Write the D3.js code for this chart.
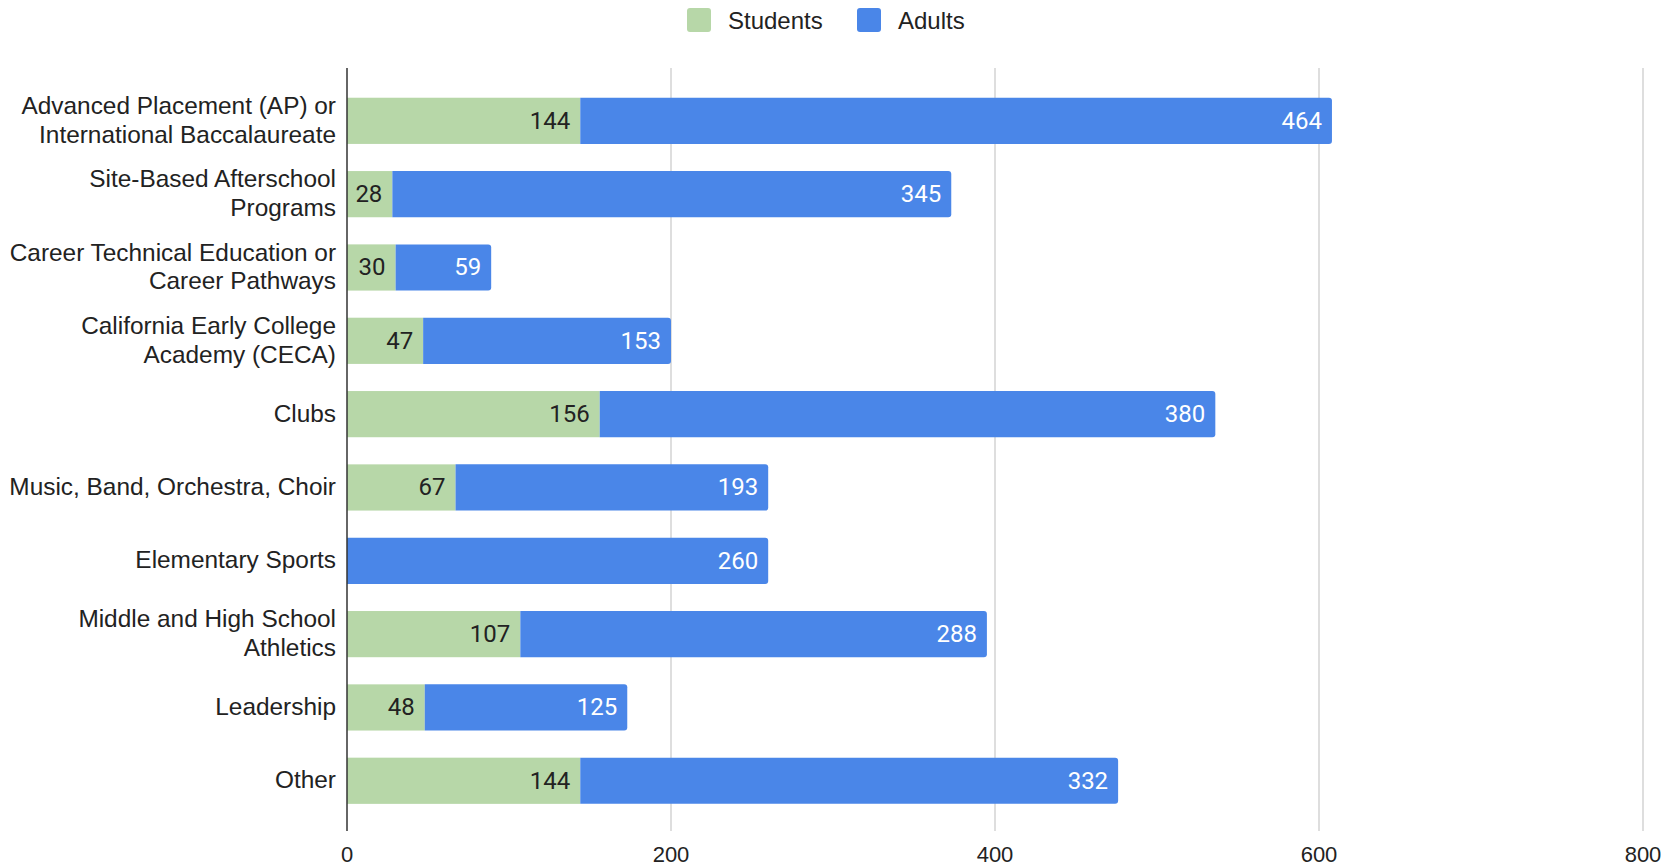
<!DOCTYPE html>
<html>
<head>
<meta charset="utf-8">
<script src="https://cdn.jsdelivr.net/npm/d3@7"></script>
<style>
  html, body { margin: 0; padding: 0; background: #fff; }
  svg { display: block; }
</style>
</head>
<body>
<script>
const categories = [
  ["Advanced Placement (AP) or", "International Baccalaureate"],
  ["Site-Based Afterschool", "Programs"],
  ["Career Technical Education or", "Career Pathways"],
  ["California Early College", "Academy (CECA)"],
  ["Clubs"],
  ["Music, Band, Orchestra, Choir"],
  ["Elementary Sports"],
  ["Middle and High School", "Athletics"],
  ["Leadership"],
  ["Other"]
];
const students = [144, 28, 30, 47, 156, 67, 0, 107, 48, 144];
const adults = [464, 345, 59, 153, 380, 193, 260, 288, 125, 332];
const seriesNames = ["Students", "Adults"];
const seriesColors = ["#b7d7a8", "#4a86e8"];
const xTicks = [0, 200, 400, 600, 800];

const W = 1671, H = 867;
const svg = d3.select("body").append("svg").attr("width", W).attr("height", H);

const x = d3.scaleLinear().domain([0, 800]).range([347, 1643]);
const y = d3.scaleBand().domain(d3.range(categories.length)).range([70.6, 831]).paddingInner(0.37).paddingOuter(0.37);

const labelFont = "Arial, 'Liberation Sans', sans-serif";
const valueFont = "Roboto, sans-serif";

// gridlines
svg.append("g").selectAll("line").data(xTicks.filter(d => d > 0)).join("line")
  .attr("x1", d => x(d)).attr("x2", d => x(d))
  .attr("y1", 68).attr("y2", 831)
  .attr("stroke", "#cccccc").attr("stroke-width", 1.3);

// x tick labels
svg.append("g").selectAll("text").data(xTicks).join("text")
  .attr("x", d => x(d)).attr("y", 862)
  .attr("text-anchor", "middle")
  .attr("font-family", labelFont).attr("font-size", 22).attr("fill", "#222")
  .text(d => d);

// bars
const rows = categories.map((c, i) => ({i, s: students[i], a: adults[i]}));
const bh = y.bandwidth();

svg.append("g").selectAll("rect").data(rows.filter(d => d.s > 0)).join("rect")
  .attr("x", d => x(0)).attr("y", d => y(d.i))
  .attr("width", d => x(d.s) - x(0)).attr("height", bh)
  .attr("fill", seriesColors[0]);

const r = 3;
svg.append("g").selectAll("path").data(rows).join("path")
  .attr("d", d => {
    const x0 = x(d.s), x1 = x(d.s + d.a), y0 = y(d.i), y1 = y0 + bh;
    return `M${x0},${y0}H${x1 - r}Q${x1},${y0} ${x1},${y0 + r}V${y1 - r}Q${x1},${y1} ${x1 - r},${y1}H${x0}Z`;
  })
  .attr("fill", seriesColors[1]);

// value labels
svg.append("g").selectAll("text").data(rows.filter(d => d.s > 0)).join("text")
  .attr("x", d => x(d.s) - 10).attr("y", d => y(d.i) + bh / 2)
  .attr("text-anchor", "end").attr("dominant-baseline", "central")
  .attr("font-family", valueFont).attr("font-size", 24).attr("fill", "#222")
  .text(d => d.s);

svg.append("g").selectAll("text").data(rows).join("text")
  .attr("x", d => x(d.s + d.a) - 10).attr("y", d => y(d.i) + bh / 2)
  .attr("text-anchor", "end").attr("dominant-baseline", "central")
  .attr("font-family", valueFont).attr("font-size", 24).attr("fill", "#ffffff")
  .text(d => d.a);

// axis line
svg.append("line").attr("x1", x(0)).attr("x2", x(0)).attr("y1", 68).attr("y2", 831)
  .attr("stroke", "#333").attr("stroke-width", 1.5);

// category labels
const lg = svg.append("g");
categories.forEach((lines, i) => {
  const cy = y(i) + bh / 2 - 1;
  const t = lg.append("text")
    .attr("text-anchor", "end")
    .attr("font-family", labelFont).attr("font-size", 24.4).attr("fill", "#222");
  const lh = 28.5;
  lines.forEach((ln, j) => {
    t.append("tspan").attr("x", 336)
      .attr("y", cy + (j - (lines.length - 1) / 2) * lh)
      .attr("dominant-baseline", "central")
      .text(ln);
  });
});

// legend
const legendItems = [
  {name: seriesNames[0], color: seriesColors[0], x: 687},
  {name: seriesNames[1], color: seriesColors[1], x: 857}
];
const leg = svg.append("g");
legendItems.forEach(d => {
  leg.append("rect").attr("x", d.x).attr("y", 8).attr("width", 24).attr("height", 24)
    .attr("rx", 3).attr("fill", d.color);
  leg.append("text").attr("x", d.x + 41).attr("y", 20)
    .attr("dominant-baseline", "central")
    .attr("font-family", labelFont).attr("font-size", 24).attr("fill", "#222")
    .text(d.name);
});
</script>
</body>
</html>
